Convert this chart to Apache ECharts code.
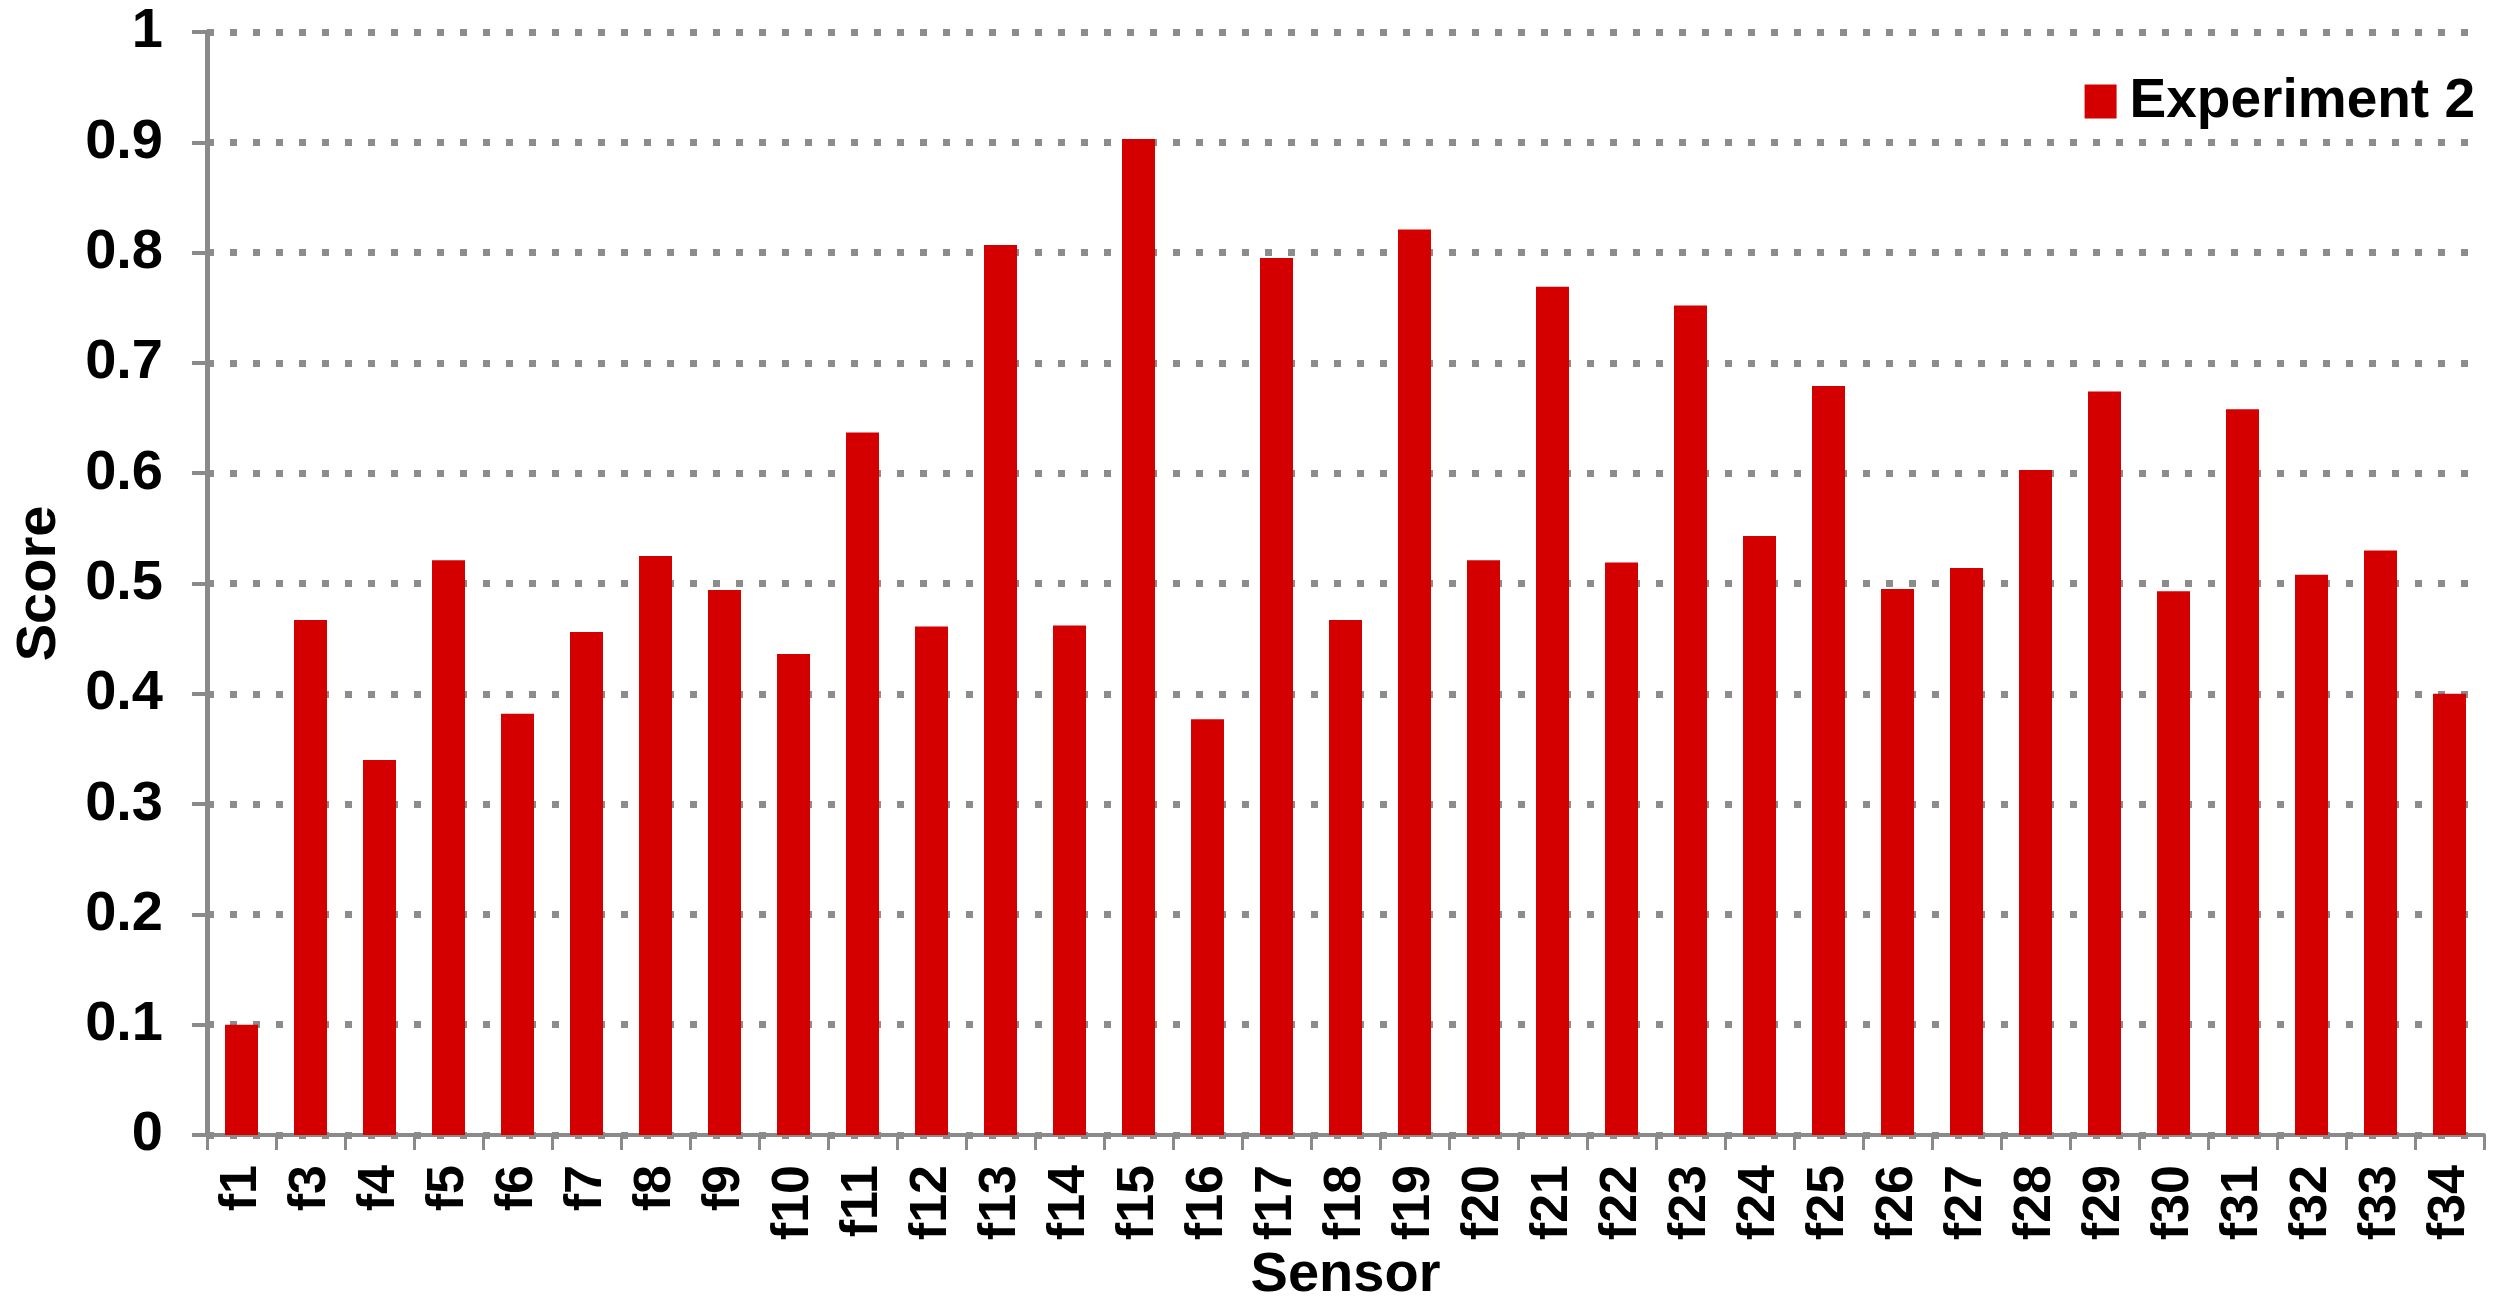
<!DOCTYPE html>
<html>
<head>
<meta charset="utf-8">
<title>Experiment 2 - Score per Sensor</title>
<script src="https://cdn.jsdelivr.net/npm/echarts@6/dist/echarts.min.js"></script>
<style>
  html, body { margin: 0; padding: 0; background: #fff; }
  #chart { width: 2500px; height: 1310px; }
</style>
</head>
<body>
<div id="chart"></div>
<script>
// sensors (f2 is absent in the original)
const sensors = ['f1', 'f3', 'f4', 'f5', 'f6', 'f7', 'f8', 'f9', 'f10', 'f11', 'f12',
  'f13', 'f14', 'f15', 'f16', 'f17', 'f18', 'f19', 'f20', 'f21', 'f22', 'f23',
  'f24', 'f25', 'f26', 'f27', 'f28', 'f29', 'f30', 'f31', 'f32', 'f33', 'f34'];

const experiment2 = [0.10, 0.467, 0.340, 0.521, 0.382, 0.456, 0.525, 0.494, 0.436, 0.637, 0.461,
  0.807, 0.462, 0.903, 0.377, 0.795, 0.467, 0.821, 0.521, 0.769, 0.519, 0.752,
  0.543, 0.679, 0.495, 0.514, 0.603, 0.674, 0.493, 0.658, 0.508, 0.530, 0.400];

const seriesName = 'Experiment 2';
const xTitle = 'Sensor';
const yTitle = 'Score';

const font = '"Liberation Sans", Arial, sans-serif';
const axisGray = '#8a8a8a';

const chart = echarts.init(document.getElementById('chart'));

chart.setOption({
  animation: false,
  textStyle: { fontFamily: font },
  grid: { left: 207, right: 16, top: 32, bottom: 175 },
  legend: {
    data: [seriesName],
    right: 20,
    top: 69,
    icon: 'rect',
    itemWidth: 32,
    itemHeight: 34,
    textStyle: {
      fontFamily: font,
      fontSize: 55,
      fontWeight: 'bold',
      color: '#000',
      padding: [0, 0, 0, 8]
    }
  },
  xAxis: {
    type: 'category',
    data: sensors,
    name: xTitle,
    nameLocation: 'middle',
    nameGap: 107,
    nameTextStyle: { fontFamily: font, fontSize: 56, fontWeight: 'bold', color: '#000' },
    axisLine: { lineStyle: { color: axisGray, width: 4 } },
    axisTick: { show: true, length: 15, lineStyle: { color: axisGray, width: 3 } },
    axisLabel: {
      rotate: 90,
      margin: 30,
      fontFamily: font,
      fontSize: 52,
      fontWeight: 'bold',
      color: '#000'
    }
  },
  yAxis: {
    type: 'value',
    min: 0,
    max: 1,
    interval: 0.1,
    name: yTitle,
    nameLocation: 'middle',
    nameGap: 139,
    nameTextStyle: { fontFamily: font, fontSize: 56, fontWeight: 'bold', color: '#000' },
    axisLine: { show: true, lineStyle: { color: axisGray, width: 5 } },
    axisTick: { show: true, length: 15, lineStyle: { color: axisGray, width: 4 } },
    axisLabel: {
      margin: 44,
      fontFamily: font,
      fontSize: 56,
      fontWeight: 'bold',
      color: '#000'
    },
    splitLine: {
      show: true,
      lineStyle: { color: '#8c8c8c', width: 7, type: [7, 16] }
    }
  },
  series: [{
    name: seriesName,
    type: 'bar',
    data: experiment2,
    barWidth: 33,
    itemStyle: { color: '#d40000' }
  }]
});
</script>
</body>
</html>
